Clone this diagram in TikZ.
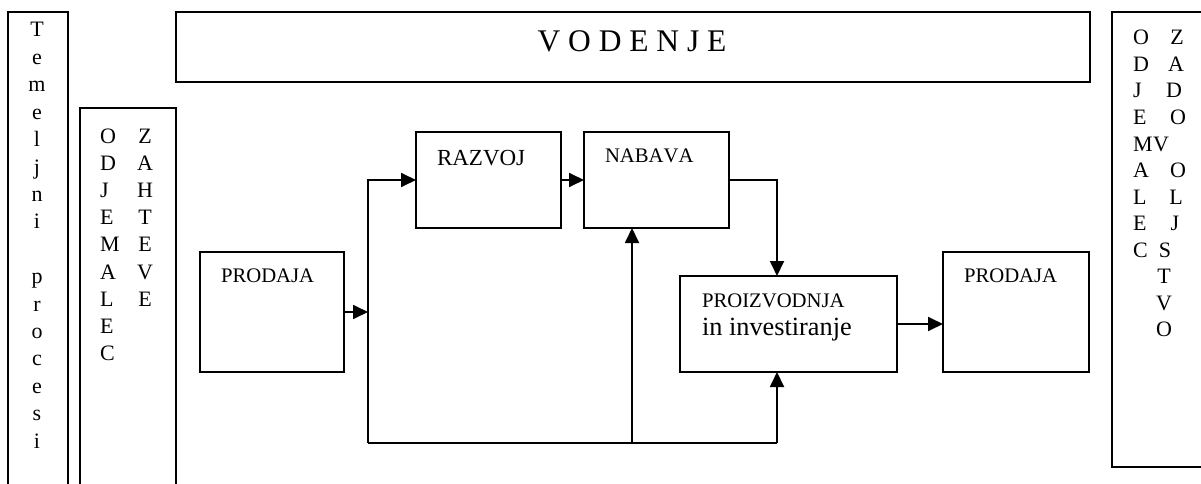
\documentclass[tikz,border=0pt]{standalone}
\usepackage{fontspec}
\setmainfont{Liberation Serif}[Kerning=Off]
\usetikzlibrary{arrows.meta}
\begin{document}
\begin{tikzpicture}[x=1pt,y=-1pt,
  every node/.style={inner sep=0pt, outer sep=0pt},
  frame/.style={draw, line width=1.8pt, anchor=north west},
  boxlabel/.style={anchor=base west, font=\fontsize{20.7}{24}\selectfont},
  letter/.style={anchor=base, font=\fontsize{22}{26}\selectfont},
  leftletter/.style={anchor=base west, font=\fontsize{22}{26}\selectfont},
  wire/.style={line width=1.8pt},
  flow/.style={wire, -{Triangle[length=15pt,width=14pt]}}]
\useasboundingbox (0,0) rectangle (1201,484);
\clip (0,0) rectangle (1201,484);

% outer frames
\node[frame, minimum width=60, minimum height=520] (temeljni) at (8,12) {};
\node[frame, minimum width=96, minimum height=420] (odjemalec) at (80,108) {};
\node[frame, minimum width=914, minimum height=70] (vodenje) at (176,12) {};
\node[frame, minimum width=120, minimum height=455] (zadovoljstvo) at (1112,12) {};

% process boxes
\node[frame, minimum width=144, minimum height=120] (prodajaA) at (200,252) {};
\node[frame, minimum width=145, minimum height=96] (razvoj) at (416,132) {};
\node[frame, minimum width=145, minimum height=96] (nabava) at (584,132) {};
\node[frame, minimum width=217, minimum height=96] (proizvodnja) at (680,276) {};
\node[frame, minimum width=146, minimum height=120] (prodajaB) at (943,252) {};

% box texts
\node[anchor=base, font=\fontsize{31.5}{36}\selectfont] (vodenjeT) at (632,52) {V O D E N J E};
\node[boxlabel] (prodajaAT) at (221,282) {PRODAJA};
\node[boxlabel, font=\fontsize{23}{26}\selectfont] (razvojT) at (437,165) {RAZVOJ};
\node[boxlabel] (nabavaT) at (605,162) {NABAVA};
\node[boxlabel] (proizT) at (702,307) {PROIZVODNJA};
\node[anchor=base west, font=\fontsize{26.3}{30}\selectfont] (investT) at (702,335) {in investiranje};
\node[boxlabel] (prodajaBT) at (964,282) {PRODAJA};

% vertical lettering
\foreach \c [count=\k] in {T,e,m,e,l,j,n,i}
  \node[letter] (tem\k) at (37,{37+(\k-1)*27.4}) {\c};
\foreach \c [count=\k] in {p,r,o,c,e,s,i}
  \node[letter] (proc\k) at (37,{37+(\k+8)*27.4}) {\c};

\foreach \c [count=\k] in {O,D,J,E,M,A,L,E,C}
  \node[leftletter] (odjA\k) at (100,{143+(\k-1)*27.2}) {\c};
\foreach \c [count=\k] in {Z,A,H,T,E,V,E}
  \node[letter] (zaht\k) at (145,{143+(\k-1)*27.2}) {\c};

\foreach \c [count=\k] in {O,D,J,E,M,A,L,E,C}
  \node[leftletter] (odjB\k) at (1133,{45+(\k-1)*26.5}) {\c};
\foreach \c/\xx [count=\k] in {Z/1177,A/1176,D/1174,O/1178,V/1161,O/1178,L/1176,J/1175,S/1165,T/1164,V/1164,O/1164}
  \node[letter] (zad\k) at (\xx,{45+(\k-1)*26.5}) {\c};

% connectors
\coordinate (busL) at (368,443);
\coordinate (busM) at (632,443);
\coordinate (busR) at (777,443);

\draw[flow] (prodajaA.east) -- (prodajaA.east -| busL);
\draw[flow] (busL) -- (busL |- razvoj.west) -- (razvoj.west);
\draw[wire] (busL) -- (busR);
\draw[flow] (razvoj.east) -- (nabava.west);
\draw[flow] (nabava.east) -- (nabava.east -| busR) -- (busR |- proizvodnja.north);
\draw[flow] (busM) -- (busM |- nabava.south);
\draw[flow] (busR) -- (busR |- proizvodnja.south);
\draw[flow] (proizvodnja.east) -- (proizvodnja.east -| prodajaB.west);
\end{tikzpicture}
\end{document}
